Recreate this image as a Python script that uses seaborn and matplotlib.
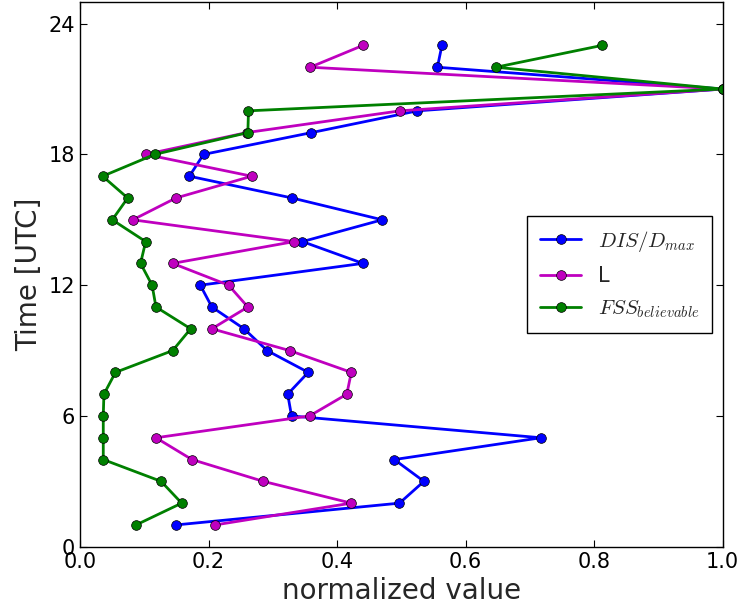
import matplotlib
matplotlib.use("Agg")
import matplotlib.pyplot as plt
import numpy as np
import pandas as pd
import seaborn as sns

# time of day (UTC) for every sample
hours = list(range(1, 24))

# normalized scores, one value per hour
dis_dmax = [0.149, 0.497, 0.535, 0.489, 0.717, 0.329, 0.323, 0.355, 0.291, 0.255,
            0.205, 0.187, 0.440, 0.346, 0.470, 0.330, 0.170, 0.192, 0.360, 0.525,
            1.000, 0.556, 0.563]
l_score = [0.210, 0.422, 0.285, 0.174, 0.118, 0.357, 0.415, 0.422, 0.326, 0.205,
           0.261, 0.231, 0.144, 0.333, 0.082, 0.149, 0.267, 0.102, 0.259, 0.498,
           1.000, 0.358, 0.440]
fss_believable = [0.087, 0.158, 0.126, 0.036, 0.036, 0.036, 0.037, 0.055, 0.144, 0.172,
                  0.118, 0.112, 0.094, 0.102, 0.050, 0.074, 0.035, 0.116, 0.261, 0.262,
                  1.000, 0.647, 0.812]

series_labels = [r"$DIS/D_{max}$", "L", r"$FSS_{believable}$"]
series_colors = ["b", "m", "g"]

sns.set_style("ticks")
plt.rcParams["font.family"] = ["DejaVu Sans"]
plt.rcParams["mathtext.fontset"] = "cm"

fig = plt.figure(figsize=(7.42, 6.15), dpi=100)
ax = fig.add_axes([0.108, 0.111, 0.866, 0.886])

for values, label, color in zip([dis_dmax, l_score, fss_believable], series_labels, series_colors):
    df = pd.DataFrame({"value": values, "hour": hours})
    sns.lineplot(data=df, x="value", y="hour", sort=False, estimator=None, ax=ax,
                 color=color, lw=2, marker="o", markersize=7,
                 markeredgecolor="k", markeredgewidth=0.5, label=label)

ax.set_xlim(0, 1)
ax.set_ylim(0, 25)
ax.set_xticks([0.0, 0.2, 0.4, 0.6, 0.8, 1.0])
ax.set_yticks([0, 6, 12, 18, 24])
ax.tick_params(direction="in", top=True, right=True, length=5, width=0.8,
               labelsize=15, colors="k")
for sp in ax.spines.values():
    sp.set_color("k")
    sp.set_linewidth(1)

ax.set_xlabel("normalized value", fontsize=20)
ax.set_ylabel("Time [UTC]", fontsize=20)

leg = ax.legend(loc="center right", fontsize=15, fancybox=False, framealpha=1,
                edgecolor="k", borderpad=0.6, labelspacing=0.6)
leg.get_frame().set_linewidth(1)

fig.savefig("out.png", dpi=100)
